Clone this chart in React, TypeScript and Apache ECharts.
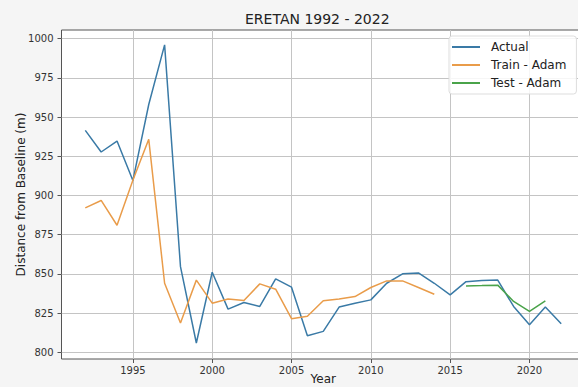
import React, { useEffect, useRef } from "react";
import * as echarts from "echarts";

const years = [
  1992, 1993, 1994, 1995, 1996, 1997, 1998, 1999, 2000, 2001, 2002, 2003, 2004, 2005, 2006, 2007,
  2008, 2009, 2010, 2011, 2012, 2013, 2014, 2015, 2016, 2017, 2018, 2019, 2020, 2021, 2022,
];
const actual = [
  941.5, 927.7, 934.7, 909.5, 958, 996, 854.6, 805.9, 851, 827.5, 831.7, 829.2, 846.8, 841.5, 810.5,
  813.3, 828.8, 831.3, 833.4, 844, 850, 850.6, 844, 836.6, 845, 845.7, 846, 829.2, 817.5, 828.8, 818.2,
];
const trainYears = [
  1992, 1993, 1994, 1995, 1996, 1997, 1998, 1999, 2000, 2001, 2002, 2003, 2004, 2005, 2006, 2007,
  2008, 2009, 2010, 2011, 2012, 2013, 2014,
];
const trainValues = [
  892.1, 896.8, 881, 909.7, 935.8, 844, 818.6, 846, 831.3, 834, 833, 843.6, 840.2, 821.4, 823, 832.8,
  834, 835.5, 841.3, 845.5, 845.5, 841.3, 837,
];
const testYears = [2016, 2017, 2018, 2019, 2020, 2021];
const testValues = [842.3, 842.5, 842.8, 832.4, 826, 832.8];

const xTicks = [1995, 2000, 2005, 2010, 2015, 2020];
const yTicks = [800, 825, 850, 875, 900, 925, 950, 975, 1000];

const FONT = "DejaVu Sans";

export default function App() {
  const ref = useRef<HTMLDivElement>(null);
  useEffect(() => {
    if (!ref.current) return;
    const chart = echarts.init(ref.current, null, { renderer: "svg" });
    const zip = (xs: number[], ys: number[]) => xs.map((x, i) => [x, ys[i]]);
    chart.setOption({
      animation: false,
      backgroundColor: "#f5f5f5",
      textStyle: { fontFamily: FONT },
      title: {
        text: "ERETAN 1992 - 2022",
        left: 245,
        top: 12,
        padding: 0,
        textStyle: { fontFamily: FONT, fontSize: 14, fontWeight: "normal", color: "#222" },
      },
      legend: {
        orient: "vertical",
        left: 449,
        top: 36,
        padding: [4, 10, 4, 3],
        itemGap: 4,
        itemWidth: 28,
        itemHeight: 2,
        icon: "rect",
        backgroundColor: "rgba(255,255,255,0.85)",
        borderColor: "#dddddd",
        borderWidth: 1,
        borderRadius: 3,
        textStyle: { fontFamily: FONT, fontSize: 12, color: "#222", lineHeight: 14, padding: [0, 0, 0, 6] },
        data: ["Actual", "Train - Adam", "Test - Adam"],
      },
      grid: {
        left: 61.5,
        right: -7,
        top: 30,
        bottom: 28,
        show: true,
        backgroundColor: "#ffffff",
        borderColor: "#555",
        borderWidth: 1,
        outerBoundsMode: "none",
        containLabel: false,
      },
      xAxis: {
        type: "value",
        min: 1990.5,
        max: 2023.5,
        name: "Year",
        nameLocation: "middle",
        nameGap: 14,
        nameMoveOverlap: false,
        nameTextStyle: { fontFamily: FONT, fontSize: 12, color: "#222", lineHeight: 12 },
        axisLine: { show: false },
        axisTick: { show: true, length: 4, customValues: xTicks, lineStyle: { color: "#555" } },
        axisLabel: {
          customValues: xTicks,
          formatter: (v: number) => String(v),
          fontFamily: FONT,
          fontSize: 10,
          color: "#333",
          margin: 6,
        },
        splitLine: { show: true, lineStyle: { color: "#c4c4c4", width: 1 } },
      },
      yAxis: {
        type: "value",
        min: 795.7,
        max: 1005.5,
        name: "Distance from Baseline (m)",
        nameLocation: "middle",
        nameGap: 35,
        nameMoveOverlap: false,
        nameTextStyle: { fontFamily: FONT, fontSize: 12, color: "#222" },
        axisLine: { show: false },
        axisTick: { show: true, length: 4, customValues: yTicks, lineStyle: { color: "#555" } },
        axisLabel: {
          customValues: yTicks,
          formatter: (v: number) => String(v),
          fontFamily: FONT,
          fontSize: 10,
          color: "#333",
          margin: 8,
        },
        splitLine: { show: true, lineStyle: { color: "#c4c4c4", width: 1 } },
      },
      series: [
        {
          name: "Actual",
          type: "line",
          data: zip(years, actual),
          symbol: "none",
          lineStyle: { color: "#3a7aa6", width: 1.5 },
          itemStyle: { color: "#3a7aa6" },
        },
        {
          name: "Train - Adam",
          type: "line",
          data: zip(trainYears, trainValues),
          symbol: "none",
          lineStyle: { color: "#e99c4a", width: 1.5 },
          itemStyle: { color: "#e99c4a" },
        },
        {
          name: "Test - Adam",
          type: "line",
          data: zip(testYears, testValues),
          symbol: "none",
          lineStyle: { color: "#4aa34a", width: 1.5 },
          itemStyle: { color: "#4aa34a" },
        },
      ],
    });
    return () => chart.dispose();
  }, []);
  return (
    <div
      ref={ref}
      style={{ position: "fixed", left: 0, top: 0, width: 578, height: 387 }}
    />
  );
}
